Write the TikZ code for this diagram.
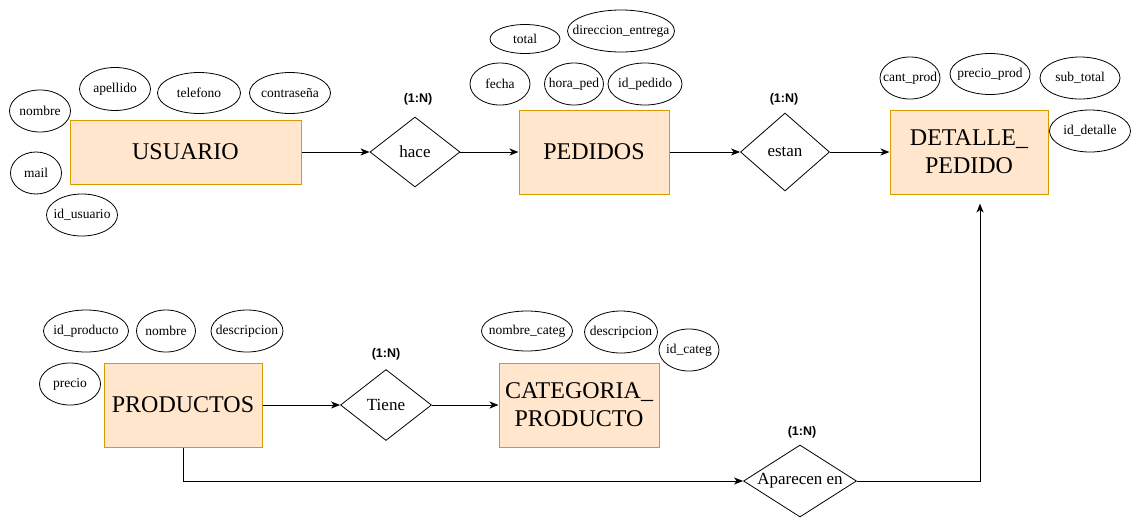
\documentclass[tikz,border=0pt]{standalone}
\usepackage{fontspec}
\setmainfont{Liberation Serif}
\newfontfamily\lblfont{Liberation Sans}
\usetikzlibrary{shapes.geometric,arrows.meta}
\definecolor{entfill}{HTML}{FFE6CC}
\definecolor{entdraw}{HTML}{D79B00}
\newcommand{\zb}[1]{\makebox[0pt]{#1}}
\begin{document}
\begin{tikzpicture}[x=1pt,y=-1pt,
  ent/.style={draw=entdraw, fill=entfill, line width=1pt, inner sep=0pt, align=center,
    font=\fontsize{24}{28}\selectfont},
  attr/.style n args={2}{ellipse, draw, line width=0.8pt, minimum width=#1, minimum height=#2,
    inner sep=0pt, font=\fontsize{13.5}{15}\selectfont},
  rel/.style n args={2}{diamond, draw, line width=0.8pt, minimum width=#1, minimum height=#2,
    inner sep=0pt, font=\fontsize{17}{19}\selectfont},
  card/.style={font=\lblfont\bfseries\fontsize{12.5}{14}\selectfont, inner sep=0pt},
  conn/.style={line width=1pt, -{Stealth[length=9pt,width=7pt,inset=2.5pt]}}
]
\useasboundingbox (0,0) rectangle (1141,528);

% entities
\node[ent, minimum width=231pt, minimum height=64pt] (us) at (185.5,152) {USUARIO};
\node[ent, minimum width=150pt, minimum height=84pt] (ped) at (594,152) {PEDIDOS};
\node[ent, minimum width=158pt, minimum height=84pt] (det) at (969,152) {DETALLE\_\\PEDIDO};
\node[ent, minimum width=158pt, minimum height=84pt] (prod) at (183,405) {PRODUCTOS};
\node[ent, minimum width=160pt, minimum height=84pt] (cat) at (579,405) {CATEGORIA\_\\PRODUCTO};

% relationships
\node[rel={90pt}{70pt}] (hace) at (415,152) {\zb{hace}};
\node[rel={89pt}{78pt}] (estan) at (785,152) {\zb{estan}};
\node[rel={91pt}{71pt}] (tiene) at (386,405) {\zb{Tiene}};
\node[rel={113pt}{72pt}] (ap) at (800,481) {\zb{Aparecen en}};

% cardinalities
\node[card] (c1) at (418,99) {(1:N)};
\node[card] (c2) at (784,99) {(1:N)};
\node[card] (c3) at (386,354) {(1:N)};
\node[card] (c4) at (802,432) {(1:N)};

% USUARIO attributes
\node[attr={61pt}{42pt}] (u1) at (40,111) {\zb{nombre}};
\node[attr={71pt}{43pt}] (u2) at (115,89) {\zb{apellido}};
\node[attr={83pt}{41pt}] (u3) at (199,93) {\zb{telefono}};
\node[attr={81pt}{41pt}] (u4) at (290,93) {\zb{contraseña}};
\node[attr={51pt}{42pt}] (u5) at (36,173) {\zb{mail}};
\node[attr={71pt}{42pt}] (u6) at (82,215) {\zb{id\_usuario}};

% PEDIDOS attributes
\node[attr={70pt}{29pt}] (p1) at (525,39) {\zb{total}};
\node[attr={107pt}{42pt}] (p2) at (621,31) {\zb{direccion\_entrega}};
\node[attr={60pt}{42pt}] (p3) at (500,84) {\zb{fecha}};
\node[attr={59pt}{42pt}] (p4) at (574,84) {\zb{hora\_ped}};
\node[attr={74pt}{42pt}] (p5) at (645,84) {\zb{id\_pedido}};

% DETALLE attributes
\node[attr={60pt}{42pt}] (d1) at (910,78) {\zb{cant\_prod}};
\node[attr={80pt}{41pt}] (d2) at (990,74) {\zb{precio\_prod}};
\node[attr={80pt}{42pt}] (d3) at (1080,78) {\zb{sub\_total}};
\node[attr={81pt}{42pt}] (d4) at (1090,131) {\zb{id\_detalle}};

% PRODUCTOS attributes
\node[attr={85pt}{42pt}] (r1) at (86,331) {\zb{id\_producto}};
\node[attr={59pt}{42pt}] (r2) at (166,331) {\zb{nombre}};
\node[attr={72pt}{42pt}] (r3) at (247,331) {\zb{descripcion}};
\node[attr={61pt}{42pt}] (r4) at (70,384) {\zb{precio}};

% CATEGORIA attributes
\node[attr={91pt}{40pt}] (k1) at (527,331) {\zb{nombre\_categ}};
\node[attr={73pt}{42pt}] (k2) at (621,332) {\zb{descripcion}};
\node[attr={60pt}{42pt}] (k3) at (689,350) {\zb{id\_categ}};

% connectors
\draw[conn] (us.east) -- (hace.west);
\draw[conn] (hace.east) -- (ped.west);
\draw[conn] (ped.east) -- (estan.west);
\draw[conn] (estan.east) -- (det.west);
\draw[conn] (prod.east) -- (tiene.west);
\draw[conn] (tiene.east) -- (cat.west);
\draw[conn] (prod.south) |- (ap.west);
\draw[conn, shorten >=9pt] (ap.east) -| ([xshift=11pt]det.south);
\end{tikzpicture}
\end{document}
